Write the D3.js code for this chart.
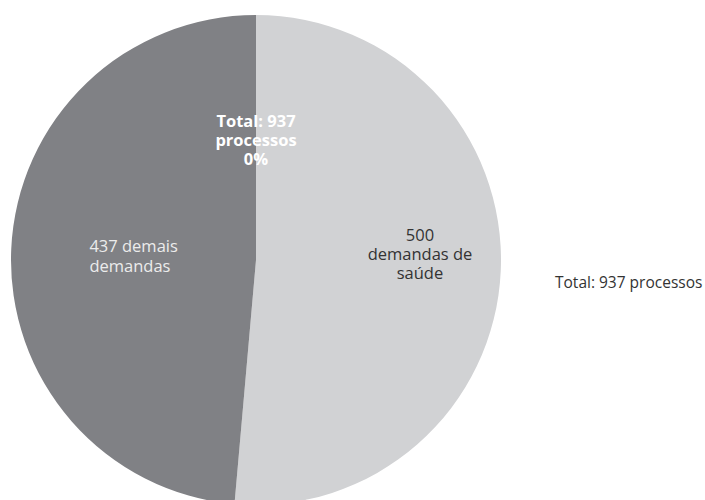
<!DOCTYPE html>
<html>
<head>
<meta charset="utf-8">
<script src="https://cdn.jsdelivr.net/npm/d3@7"></script>
<style>
  html, body { margin: 0; padding: 0; background: #ffffff; }
  svg { display: block; font-family: "Open Sans", "Noto Sans", sans-serif; }
</style>
</head>
<body>
<svg id="chart" width="705" height="500"></svg>
<script>
// ---- data ----
const categories = ["demandas de saúde", "demais demandas", "Total: 937 processos"];
const counts = [500, 437, 0];
// share of the circle each slice occupies
const circleShare = [51.4, 48.6, 0];
const sliceLabels = [["500", "demandas de", "saúde"], ["437 demais", "demandas"], ["Total: 937", "processos", "0%"]];
const sideNote = "Total: 937 processos";

// ---- layout / style ----
const width = 705, height = 500;
const cx = 256, cy = 260, radius = 245;
const colors = ["#d1d2d4", "#808185", "#808185"];

const svg = d3.select("#chart");
const g = svg.append("g").attr("transform", `translate(${cx},${cy})`);

const data = categories.map((c, i) => ({ cat: c, count: counts[i], share: circleShare[i], lines: sliceLabels[i], i }));

const pie = d3.pie().sort(null).value(d => d.share);
const arcs = pie(data);
const arc = d3.arc().innerRadius(0).outerRadius(radius);

g.selectAll("path.slice")
  .data(arcs)
  .join("path")
  .attr("class", "slice")
  .attr("d", arc)
  .attr("fill", d => colors[d.data.i]);

// label placement settings per slice
const labelCfg = [
  { r: 0.67, dy: -13, fill: "#333333", weight: 400, size: 16.5, lh: 19, align: "middle" },
  { r: 0.5, dy: 2, fill: "#ececec", weight: 400, size: 16.5, lh: 20, align: "start" },
  { r: 0.5, dy: 3, fill: "#ffffff", weight: 700, size: 16.5, lh: 19, align: "middle" }
];

arcs.forEach(a => {
  const cfg = labelCfg[a.data.i];
  const [px0, py0] = d3.arc().innerRadius(0).outerRadius(radius * cfg.r * 2).centroid(a);
  const px = px0, py = py0 + cfg.dy;
  const lines = a.data.lines;
  const t = g.append("text")
    .attr("fill", cfg.fill)
    .attr("font-size", cfg.size)
    .attr("font-weight", cfg.weight);
  const n = lines.length;
  const tsp = t.selectAll("tspan").data(lines).join("tspan")
    .attr("y", (d, j) => py + (j - (n - 1) / 2) * cfg.lh)
    .attr("dy", "0.35em")
    .text(d => d);
  if (cfg.align === "middle") {
    tsp.attr("x", px).attr("text-anchor", "middle");
  } else {
    tsp.attr("x", 0).attr("text-anchor", "start");
    const maxW = d3.max(tsp.nodes(), nd => nd.getComputedTextLength());
    tsp.attr("x", px - maxW / 2);
  }
});

svg.append("text")
  .attr("x", 555)
  .attr("y", 288)
  .attr("fill", "#333333")
  .attr("font-size", 15.5)
  .text(sideNote);
</script>
</body>
</html>
